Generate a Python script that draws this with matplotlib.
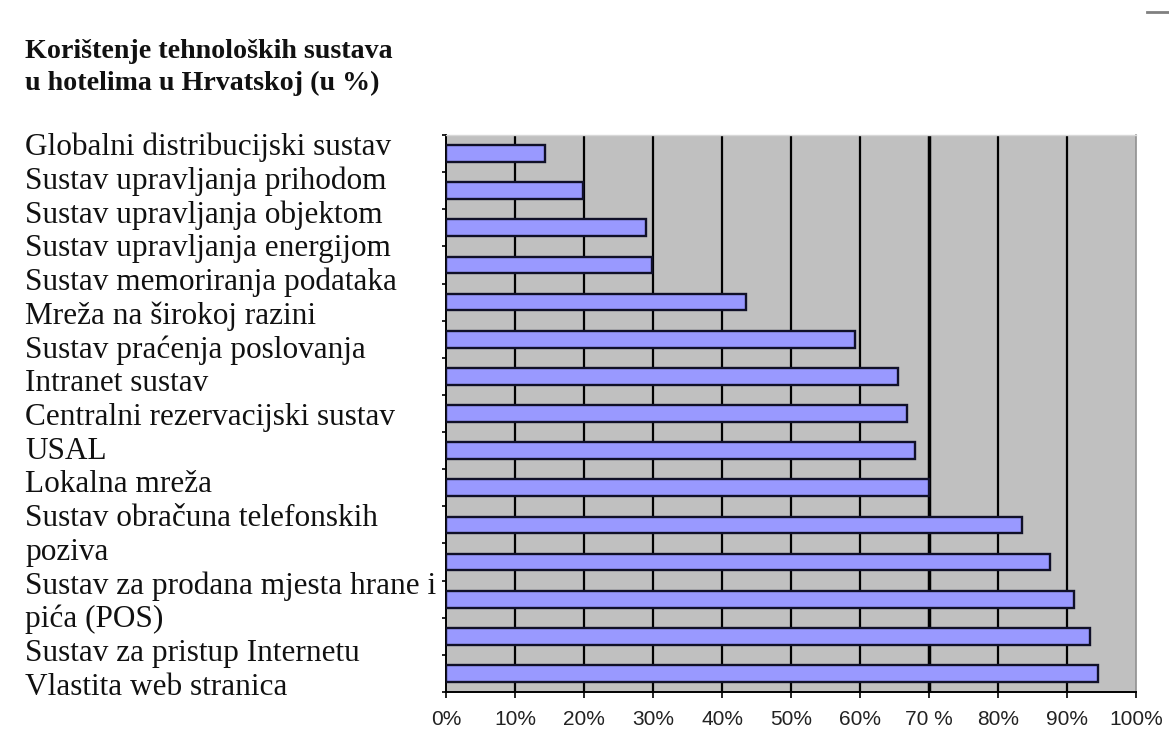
import matplotlib
matplotlib.use("Agg")
import matplotlib.pyplot as plt
from matplotlib.lines import Line2D

categories = [
    "Globalni distribucijski sustav",
    "Sustav upravljanja prihodom",
    "Sustav upravljanja objektom",
    "Sustav upravljanja energijom",
    "Sustav memoriranja podataka",
    "Mreža na širokoj razini",
    "Sustav praćenja poslovanja",
    "Intranet sustav",
    "Centralni rezervacijski sustav",
    "USAL",
    "Lokalna mreža",
    "Sustav obračuna telefonskih\npoziva",
    "Sustav za prodana mjesta hrane i\npića (POS)",
    "Sustav za pristup Internetu",
    "Vlastita web stranica",
]
values = [14.3, 19.8, 29.0, 29.9, 43.5, 59.3, 65.5, 66.8, 68.0, 70.0, 83.5, 87.5, 91.0, 93.3, 94.5]
xtick_values = list(range(0, 101, 10))
xtick_labels = ["0%", "10%", "20%", "30%", "40%", "50%", "60%", "70 %", "80%", "90%", "100%"]
title_lines = ["Korištenje tehnoloških sustava", "u hotelima u Hrvatskoj (u %)"]

W, H = 1169, 746
fig = plt.figure(figsize=(W / 100, H / 100), dpi=100)
fig.patch.set_facecolor("white")

ax = fig.add_axes([446 / W, 1 - 692 / H, (1136 - 446) / W, (692 - 135) / H])
ax.set_facecolor("#c0c0c0")
n = len(values)
ypos = list(range(n))
ax.barh(ypos, values, height=0.45, color="#9999ff", edgecolor="#101028", linewidth=1.7, zorder=3)
ax.set_ylim(n - 0.5, -0.5)
ax.set_xlim(0, 100)

for xv in xtick_values[1:-1]:
    ax.axvline(xv, color="black", lw=2.5 if xv == 70 else 1.6, zorder=2)

ax.set_yticks([i + 0.5 for i in range(-1, n)])
ax.set_yticklabels([])
ax.tick_params(axis="y", direction="out", length=3, width=1.2, color="black")
ax.set_xticks(xtick_values)
ax.set_xticklabels(xtick_labels, fontfamily="Liberation Sans", fontsize=15, color="#222222")
ax.tick_params(axis="x", direction="out", length=4, width=1.2, color="black", pad=9)

ax.spines["left"].set_color("black")
ax.spines["left"].set_linewidth(1.4)
ax.spines["bottom"].set_color("black")
ax.spines["bottom"].set_linewidth(1.4)
ax.spines["top"].set_color("#d8d8d8")
ax.spines["top"].set_linewidth(1.0)
ax.spines["right"].set_color("#909090")
ax.spines["right"].set_linewidth(1.2)

# Title
for i, tl in enumerate(title_lines):
    fig.text(25 / W, 1 - (58 + 32 * i) / H, tl, ha="left", va="baseline",
             fontfamily="Liberation Serif", fontweight="bold", fontsize=20.2, color="#111111")

# Category labels (wrapped lines stacked on the left)
lines = []
for c in categories:
    lines.extend(c.split("\n"))
top_y, bot_y = 155, 695
step = (bot_y - top_y) / (len(lines) - 1)
for i, ln in enumerate(lines):
    fig.text(25 / W, 1 - (top_y + i * step) / H, ln, ha="left", va="baseline",
             fontfamily="Liberation Serif", fontsize=22.5, color="#111111")

# small decorative dash at top right
fig.add_artist(Line2D([1147 / W, 1169 / W], [1 - 12 / H, 1 - 12 / H], color="#808080", lw=2))

fig.savefig("out.png", dpi=100, facecolor="white")
